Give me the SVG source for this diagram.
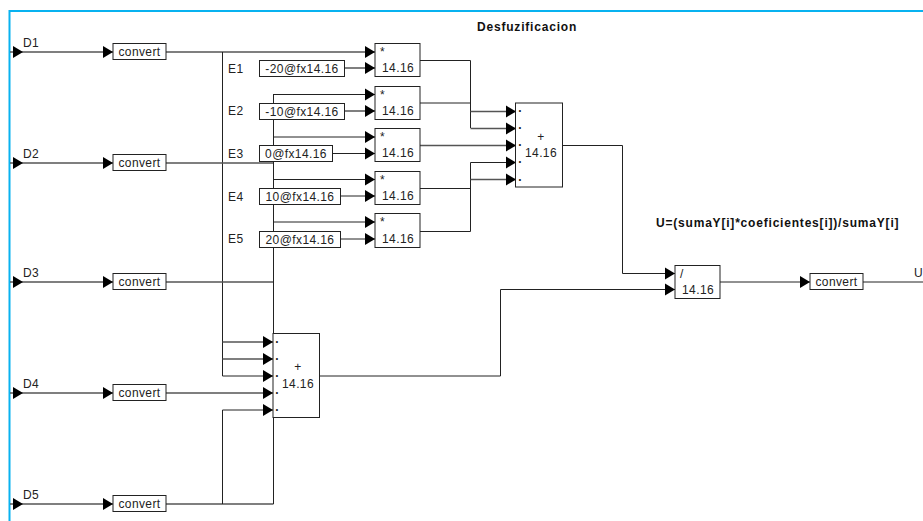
<svg xmlns="http://www.w3.org/2000/svg" width="923" height="521" viewBox="0 0 923 521">
<style>
text{font-family:"Liberation Sans",Arial,sans-serif;font-size:12px;letter-spacing:.4px;fill:#222}
.b{font-weight:bold;fill:#111;letter-spacing:.8px}
.m{text-anchor:middle}
.s{font-weight:bold;letter-spacing:0}
.box{fill:#fff;stroke:#222;stroke-width:1}
.w{fill:none;stroke:#222;stroke-width:1}
.g{fill:none;stroke:#555;stroke-width:1.5}
.a{marker-end:url(#ah)}
</style>
<defs>
<marker id="ah" markerUnits="userSpaceOnUse" markerWidth="10" markerHeight="12" refX="10" refY="6" orient="auto" overflow="visible"><path d="M0 0L10 6L0 12Z" fill="#000"/></marker>
</defs>
<rect x="0" y="0" width="923" height="521" fill="#fff"/>
<path d="M9.5 521V11H923" fill="none" stroke="#08b2f0" stroke-width="2"/>
<g id="connectors">
<path class="g a" d="M10 52H23"/><path class="g a" d="M23 52H113"/>
<path class="g a" d="M10 163H23"/><path class="g a" d="M23 163H113"/>
<path class="g a" d="M10 282H23"/><path class="g a" d="M23 282H113"/>
<path class="g a" d="M10 393H23"/><path class="g a" d="M23 393H113"/>
<path class="g a" d="M10 504H23"/><path class="g a" d="M23 504H113"/>
<path class="g a" d="M166 52H375"/>
<path class="w" d="M222.500 52V376"/>
<path class="g" d="M166 163H273.500"/>
<path class="g" d="M166 282H273.500"/>
<path class="w" d="M273.500 333V94"/>
<path class="w a" d="M273.500 94.500H375"/>
<path class="w a" d="M273.500 137H375"/>
<path class="w a" d="M273.500 179.500H375"/>
<path class="w a" d="M273.500 222H375"/>
<path class="g a" d="M345 68H375"/>
<path class="g a" d="M345 111H375"/>
<path class="w a" d="M333 153.500H375"/>
<path class="w a" d="M341 196H375"/>
<path class="w a" d="M341 239H375"/>
<path class="g a" d="M222.500 342H273"/>
<path class="g a" d="M222.500 359H273"/>
<path class="w a" d="M222.500 376H273"/>
<path class="g a" d="M166 393H273"/>
<path class="w a" d="M222.500 410H273"/>
<path class="g" d="M166 504H273.500"/>
<path class="w" d="M222.500 410V504"/>
<path class="w" d="M273.500 417V504"/>
<path class="w" d="M420 60.500H470.500V128"/>
<path class="w" d="M420 103H470.500"/>
<path class="g a" d="M470.500 111.500H516"/>
<path class="g a" d="M470.500 128.500H516"/>
<path class="g a" d="M420 145.500H516"/>
<path class="w a" d="M470.500 231.500V162.500H516"/>
<path class="g a" d="M470.500 179.500H516"/>
<path class="w" d="M420 188.500H470.500"/>
<path class="w" d="M420 231.500H470.500"/>
<path class="w a" d="M562 145.500H622.500V273.500H675"/>
<path class="w a" d="M319.500 376H500.500V289.500H675"/>
<path class="w a" d="M720 282H810"/>
<path class="w" d="M863 282H923"/>
</g>
<g id="D1"><text x="23" y="47">D1</text></g>
<g id="D2"><text x="23" y="158">D2</text></g>
<g id="D3"><text x="23" y="277">D3</text></g>
<g id="D4"><text x="23" y="388">D4</text></g>
<g id="D5"><text x="23" y="499">D5</text></g>
<g id="E1"><text x="228" y="73">E1</text></g>
<g id="E2"><text x="228" y="115">E2</text></g>
<g id="E3"><text x="228" y="158">E3</text></g>
<g id="E4"><text x="228" y="201">E4</text></g>
<g id="E5"><text x="228" y="243">E5</text></g>
<g id="convert1"><rect class="box" x="113" y="43.500" width="53" height="16"/><text class="m" x="139.500" y="56">convert</text></g>
<g id="convert2"><rect class="box" x="113" y="154.500" width="53" height="16"/><text class="m" x="139.500" y="167">convert</text></g>
<g id="convert3"><rect class="box" x="113" y="273.500" width="53" height="16"/><text class="m" x="139.500" y="286">convert</text></g>
<g id="convert4"><rect class="box" x="113" y="384.500" width="53" height="16"/><text class="m" x="139.500" y="397">convert</text></g>
<g id="convert5"><rect class="box" x="113" y="495.500" width="53" height="16"/><text class="m" x="139.500" y="508">convert</text></g>
<g id="const1"><rect class="box" x="259.500" y="60.500" width="85" height="16"/><text class="m" x="302" y="73">-20@fx14.16</text></g>
<g id="const2"><rect class="box" x="259.500" y="103.500" width="85" height="16"/><text class="m" x="302" y="116">-10@fx14.16</text></g>
<g id="const3"><rect class="box" x="259.500" y="145.500" width="73" height="16"/><text class="m" x="296" y="158">0@fx14.16</text></g>
<g id="const4"><rect class="box" x="259.500" y="188.500" width="81" height="16"/><text class="m" x="300" y="201">10@fx14.16</text></g>
<g id="const5"><rect class="box" x="259.500" y="231.500" width="81" height="16"/><text class="m" x="300" y="244">20@fx14.16</text></g>
<g id="mult1"><rect class="box" x="375" y="43.500" width="45" height="33"/><text x="380" y="56">*</text><text x="382" y="72">14.16</text></g>
<g id="mult2"><rect class="box" x="375" y="86.500" width="45" height="33"/><text x="380" y="99">*</text><text x="382" y="115">14.16</text></g>
<g id="mult3"><rect class="box" x="375" y="128.500" width="45" height="33"/><text x="380" y="141">*</text><text x="382" y="157">14.16</text></g>
<g id="mult4"><rect class="box" x="375" y="171.500" width="45" height="33"/><text x="380" y="184">*</text><text x="382" y="200">14.16</text></g>
<g id="mult5"><rect class="box" x="375" y="213.500" width="45" height="34"/><text x="380" y="226">*</text><text x="382" y="243">14.16</text></g>
<g id="sum1"><rect class="box" x="515.500" y="103" width="47" height="84"/><text class="s" x="518.300" y="112">.</text><text class="s" x="518.300" y="129">.</text><text class="s" x="518.300" y="146">.</text><text class="s" x="518.300" y="163">.</text><text class="s" x="518.300" y="180.500">.</text><text class="m" x="541" y="141">+</text><text class="m" x="541" y="157">14.16</text></g>
<g id="sum2"><rect class="box" x="273" y="333.500" width="46.500" height="84"/><text class="s" x="275.300" y="343">.</text><text class="s" x="275.300" y="360">.</text><text class="s" x="275.300" y="377">.</text><text class="s" x="275.300" y="394">.</text><text class="s" x="275.300" y="411">.</text><text class="m" x="298" y="371">+</text><text class="m" x="298" y="388">14.16</text></g>
<g id="div"><rect class="box" x="675" y="265.500" width="45" height="33"/><text x="680" y="278">/</text><text x="682" y="294">14.16</text></g>
<g id="convert6"><rect class="box" x="810" y="273.500" width="53" height="16"/><text class="m" x="836.500" y="286">convert</text></g>
<g id="U"><text x="914" y="277">U</text></g>
<text class="b" x="477" y="31">Desfuzificacion</text>
<text class="b" x="656" y="227">U=(sumaY[i]*coeficientes[i])/sumaY[i]</text>
</svg>
